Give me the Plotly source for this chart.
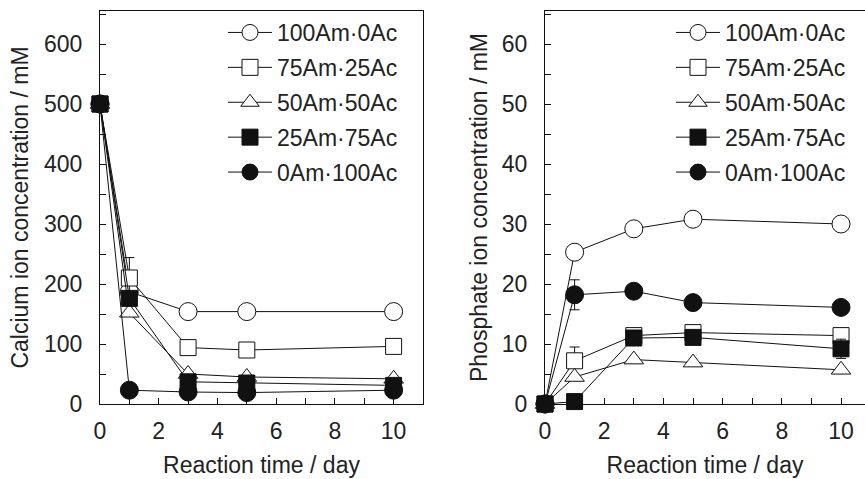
import plotly.graph_objects as go

days = [0, 1, 3, 5, 10]
series_names = ["100Am\u00b70Ac", "75Am\u00b725Ac", "50Am\u00b750Ac", "25Am\u00b775Ac", "0Am\u00b7100Ac"]

calcium = {
    "100Am\u00b70Ac": [500, 187, 154, 154, 154],
    "75Am\u00b725Ac": [500, 210, 94, 90, 96],
    "50Am\u00b750Ac": [500, 152, 50, 45, 42],
    "25Am\u00b775Ac": [500, 176, 37, 35, 31],
    "0Am\u00b7100Ac": [500, 23, 20, 19, 23],
}
calcium_err = {
    "100Am\u00b70Ac": [0, 0, 0, 0, 0],
    "75Am\u00b725Ac": [0, 34, 0, 0, 0],
    "50Am\u00b750Ac": [0, 0, 0, 0, 0],
    "25Am\u00b775Ac": [0, 0, 0, 0, 0],
    "0Am\u00b7100Ac": [0, 0, 0, 0, 0],
}
phosphate = {
    "100Am\u00b70Ac": [0, 25.3, 29.2, 30.8, 30.0],
    "75Am\u00b725Ac": [0, 7.2, 11.4, 11.9, 11.4],
    "50Am\u00b750Ac": [0, 4.5, 7.4, 6.9, 5.7],
    "25Am\u00b775Ac": [0, 0.4, 11.0, 11.1, 9.2],
    "0Am\u00b7100Ac": [0, 18.2, 18.8, 16.9, 16.1],
}
phosphate_err = {
    "100Am\u00b70Ac": [0, 0, 0, 0, 0],
    "75Am\u00b725Ac": [0, 2.3, 0, 0, 0],
    "50Am\u00b750Ac": [0, 0, 0, 0, 0],
    "25Am\u00b775Ac": [0, 0, 0, 0, 1.6],
    "0Am\u00b7100Ac": [0, 2.5, 0, 0, 0],
}

styles = {
    "100Am\u00b70Ac": dict(symbol="circle", color="white", size=18),
    "75Am\u00b725Ac": dict(symbol="square", color="white", size=16),
    "50Am\u00b750Ac": dict(symbol="triangle-up", color="white", size=17),
    "25Am\u00b775Ac": dict(symbol="square", color="#111111", size=16),
    "0Am\u00b7100Ac": dict(symbol="circle", color="#111111", size=18),
}

FONT = "Liberation Sans, Arial, Helvetica, sans-serif"
FS = 23

fig = go.Figure()

for panel, (data, err, xa, ya, leg) in enumerate([
    (calcium, calcium_err, "x", "y", "legend"),
    (phosphate, phosphate_err, "x2", "y2", "legend2"),
]):
    for name in series_names:
        st = styles[name]
        fig.add_trace(go.Scatter(
            x=days, y=data[name], name=name, mode="lines+markers",
            xaxis=xa, yaxis=ya, legend=leg, legendgroup=name + str(panel),
            line=dict(color="#111111", width=1),
            marker=dict(symbol=st["symbol"], size=st["size"], color=st["color"],
                        line=dict(color="#111111", width=1)),
            error_y=dict(type="data", array=err[name], visible=True,
                         color="#111111", thickness=1, width=5),
            cliponaxis=False,
        ))

axis_common = dict(
    showline=True, linecolor="#111111", linewidth=1,
    ticks="inside", ticklen=6, tickcolor="#111111", tickwidth=1,
    showgrid=False, zeroline=False,
    tickfont=dict(family=FONT, size=FS, color="#222222"),
    title_font=dict(family=FONT, size=FS, color="#222222"),
)
minor_x = dict(dtick=1, ticks="inside", ticklen=6, tickcolor="#111111")

fig.update_layout(
    width=865, height=479,
    margin=dict(l=100, r=0, t=11, b=75),
    paper_bgcolor="white", plot_bgcolor="white",
    font=dict(family=FONT, size=FS, color="#222222"),
    showlegend=True,
    xaxis=dict(domain=[0, 0.4222], range=[0, 11], dtick=2, minor=minor_x,
               ticklabelstandoff=6,
               mirror=True, title=dict(text="Reaction time / day", standoff=14),
               **axis_common),
    yaxis=dict(range=[0, 655], dtick=100,
               minor=dict(dtick=50, ticks="inside", ticklen=6, tickcolor="#111111"),
               ticklabelstandoff=12,
               mirror=True, title=dict(text="Calcium ion concentration / mM", standoff=8),
               **axis_common),
    xaxis2=dict(domain=[0.5817, 1], range=[0, 10.81], dtick=2, anchor="y2", minor=minor_x,
                ticklabelstandoff=6,
                mirror=True, title=dict(text="Reaction time / day", standoff=14),
                **axis_common),
    yaxis2=dict(range=[0, 65.5], dtick=10, anchor="x2",
                minor=dict(dtick=5, ticks="inside", ticklen=6, tickcolor="#111111"),
                ticklabelstandoff=12,
                mirror=False, title=dict(text="Phosphate ion concentration / mM", standoff=7),
                **axis_common),
    legend=dict(x=(223 - 100) / 765, xanchor="left", y=1.0, yanchor="top",
                bgcolor="rgba(0,0,0,0)", borderwidth=0, tracegroupgap=2,
                traceorder="grouped", itemwidth=44,
                font=dict(family=FONT, size=FS, color="#222222")),
    legend2=dict(x=(671 - 100) / 765, xanchor="left", y=1.0, yanchor="top",
                 bgcolor="rgba(0,0,0,0)", borderwidth=0, tracegroupgap=2,
                 traceorder="grouped", itemwidth=44,
                 font=dict(family=FONT, size=FS, color="#222222")),
)

fig.write_html("out.html")
